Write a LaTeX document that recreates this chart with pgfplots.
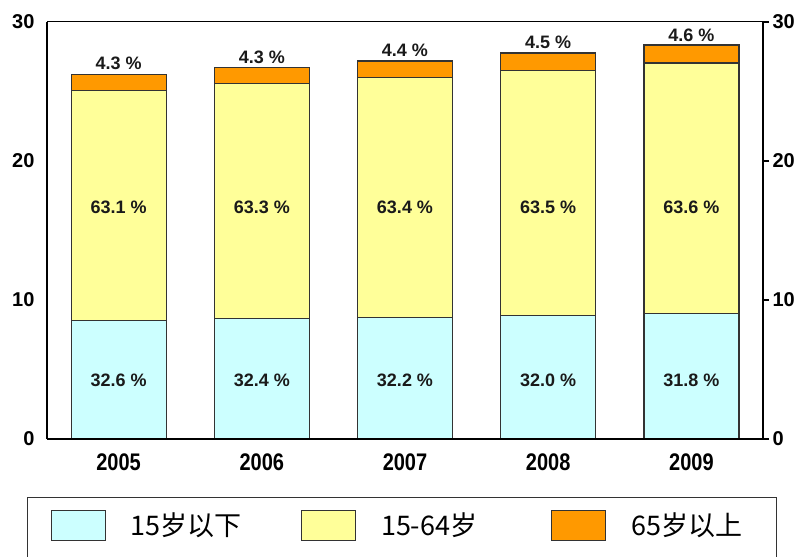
\documentclass[border=0pt]{standalone}
\usepackage{pgfplots}
\pgfplotsset{compat=1.18}
\usepackage{fontspec}
\setmainfont{Liberation Sans}
\newfontfamily\cjk{Noto Sans CJK SC}
\definecolor{cCyan}{HTML}{CCFFFF}
\definecolor{cYel}{HTML}{FFFF99}
\definecolor{cOra}{HTML}{FF9900}
\definecolor{cEdge}{HTML}{333333}
\definecolor{cTxt}{HTML}{1A1A1A}
\tikzset{pct/.style={font=\bfseries\fontsize{18}{21}\selectfont, text=cTxt}}
\pgfplotsset{
  base/.style={scale only axis, width=716pt, height=417pt, at={(47pt,118pt)}, anchor=south west,
    xmin=-0.5, xmax=4.5, ymin=0, ymax=30,
    /pgf/number format/assume math mode=true,
    tick label style={font=\bfseries\fontsize{20}{24}\selectfont}},
  myleg/.style={legend image code/.code={\draw[##1, line width=1.2pt] (0pt,-15pt) rectangle (54pt,15pt); \path (0pt,-28pt);}}
}
\begin{document}
\begin{tikzpicture}[x=1pt,y=1pt]
\path[use as bounding box] (0,0) rectangle (804,557);
\begin{axis}[base,
  ybar stacked, bar width=95pt,
  xtick={0,1,2,3,4},
  xticklabels={\scalebox{1}[1.2]{2005},\scalebox{1}[1.2]{2006},\scalebox{1}[1.2]{2007},\scalebox{1}[1.2]{2008},\scalebox{1}[1.2]{2009}},
  ytick={0,10,20,30}, major tick length=0pt,
  axis line style={line width=1pt, black},
  xticklabel style={yshift=-11pt},
  yticklabel style={xshift=-9pt},
  legend columns=3,
  legend style={at={(axis description cs:-0.0279,-0.139)}, anchor=north west,
    draw=cEdge, line width=1.2pt, inner xsep=23pt, inner ysep=12pt,
    font=\cjk\fontsize{27}{31}\selectfont,
    /tikz/every odd column/.append style={column sep=23pt},
    /tikz/every even column/.append style={column sep=48pt},
    cells={anchor=west, text width=120pt}},
]
\addplot[fill=cCyan, draw=cEdge, line width=1.2pt, myleg] coordinates {(0,8.54) (1,8.65) (2,8.76) (3,8.89) (4,9.02)};
\addlegendentry{15岁以下}
\addplot[fill=cYel, draw=cEdge, line width=1.2pt, myleg] coordinates {(0,16.53) (1,16.90) (2,17.24) (3,17.63) (4,18.03)};
\addlegendentry{15-64岁}
\addplot[fill=cOra, draw=cEdge, line width=1.2pt, myleg,
  nodes near coords, point meta=explicit symbolic,
  every node near coord/.append style={pct, anchor=center, yshift=19pt}] coordinates {
  (0,1.13)[4.3~\%] (1,1.15)[4.3~\%] (2,1.20)[4.4~\%] (3,1.25)[4.5~\%] (4,1.30)[4.6~\%]};
\addlegendentry{65岁以上}
\end{axis}
\begin{axis}[base, axis x line*=bottom, axis y line*=left,
  axis line style={line width=2.2pt, -}, xtick=\empty, ytick=\empty]
\addplot[draw=none, mark=none, nodes near coords, point meta=explicit symbolic,
  every node near coord/.append style={pct, anchor=center}] coordinates {
  (0,16.7)[63.1~\%] (1,16.7)[63.3~\%] (2,16.7)[63.4~\%] (3,16.7)[63.5~\%] (4,16.7)[63.6~\%]};
\addplot[draw=none, mark=none, nodes near coords, point meta=explicit symbolic,
  every node near coord/.append style={pct, anchor=center}] coordinates {
  (0,4.24)[32.6~\%] (1,4.24)[32.4~\%] (2,4.24)[32.2~\%] (3,4.24)[32.0~\%] (4,4.24)[31.8~\%]};
\end{axis}
\begin{axis}[base, axis x line=none, axis y line*=right,
  axis line style={line width=2.2pt, -}, ytick={0,10,20,30},
  tick align=outside, major tick length=6pt, tick style={line width=1.5pt, black}]
\end{axis}
\end{tikzpicture}
\end{document}
